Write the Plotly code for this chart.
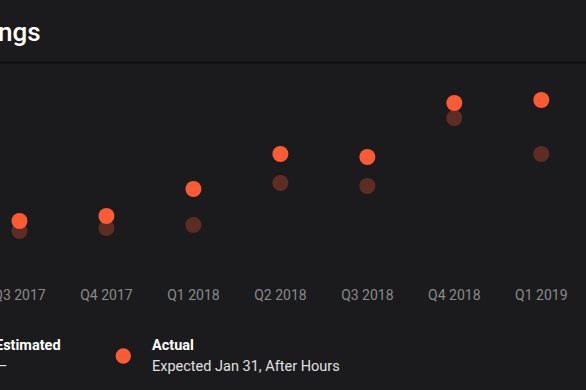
import plotly.graph_objects as go

quarters = ["Q3 2017", "Q4 2017", "Q1 2018", "Q2 2018", "Q3 2018", "Q4 2018", "Q1 2019"]
actual = [0.39, 0.44, 0.71, 1.06, 1.03, 1.57, 1.60]
estimated = [0.29, 0.32, 0.35, 0.77, 0.74, 1.42, 1.06]

BG = "#1b1b1d"
ORANGE = "#fa5a34"
W, H = 586, 390
T, B = 70, 110  # plot area y from 70 to 280

fig = go.Figure()
fig.add_trace(go.Scatter(x=quarters, y=estimated, mode="markers", name="Estimated",
                         marker=dict(color=ORANGE, size=16, opacity=0.3, line=dict(width=0)),
                         hoverinfo="skip"))
fig.add_trace(go.Scatter(x=quarters, y=actual, mode="markers", name="Actual",
                         marker=dict(color=ORANGE, size=16, line=dict(width=0)),
                         hoverinfo="skip"))

ph = H - T - B

def py(pix):
    return (H - B - pix) / ph

fig.update_layout(
    width=W, height=H,
    margin=dict(l=0, r=0, t=T, b=B, pad=0, autoexpand=False),
    paper_bgcolor=BG, plot_bgcolor=BG,
    showlegend=False,
    font=dict(family="Roboto", color="#8a8a8a", size=14),
    xaxis=dict(type="category", range=[-0.2242, 6.514], showgrid=False, zeroline=False,
               showline=False, ticks="", ticklabelstandoff=5, automargin=False,
               tickfont=dict(family="Roboto", size=14, color="#8a8a8a"),
               fixedrange=True),
    yaxis=dict(range=[-0.2, 1.9], visible=False, fixedrange=True, automargin=False),
)

# header separator line
fig.add_shape(type="line", xref="paper", yref="paper", x0=0, x1=1, y0=py(62.5), y1=py(62.5),
              line=dict(color="#0c0c0e", width=1.5))

# title (cropped at left edge, as in the reference)
fig.add_annotation(text="Earnings", xref="paper", yref="paper", x=43 / W, y=py(32),
                   xanchor="right", yanchor="middle", showarrow=False,
                   font=dict(family="Roboto", size=26, color="#ffffff", weight=500))

# legend
fig.add_annotation(text="<b>Estimated</b>", xref="paper", yref="paper", x=63 / W, y=py(345),
                   xanchor="right", yanchor="middle", showarrow=False,
                   font=dict(family="Roboto", size=14.5, color="#ffffff"))
fig.add_annotation(text="–", xref="paper", yref="paper", x=-4 / W, y=py(366),
                   xanchor="left", yanchor="middle", showarrow=False,
                   font=dict(family="Roboto", size=14.5, color="#e0e0e0"))
fig.add_shape(type="circle", xref="paper", yref="paper", xsizemode="pixel", ysizemode="pixel",
              xanchor=123.3 / W, yanchor=py(356), x0=-7.7, x1=7.7, y0=-7.7, y1=7.7,
              fillcolor=ORANGE, line=dict(width=0))
fig.add_annotation(text="<b>Actual</b>", xref="paper", yref="paper", x=150 / W, y=py(345),
                   xanchor="left", yanchor="middle", showarrow=False,
                   font=dict(family="Roboto", size=14.5, color="#ffffff"))
fig.add_annotation(text="Expected Jan 31, After Hours", xref="paper", yref="paper", x=150 / W, y=py(366),
                   xanchor="left", yanchor="middle", showarrow=False,
                   font=dict(family="Roboto", size=14.5, color="#e0e0e0"))

fig.write_html("out.html", config=dict(displayModeBar=False))
